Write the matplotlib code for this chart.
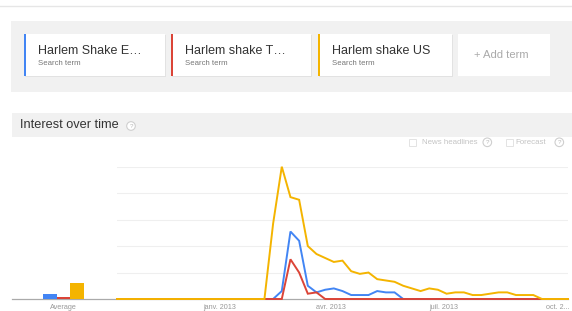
import matplotlib
matplotlib.use('Agg')
import matplotlib.pyplot as plt
from matplotlib.patches import Rectangle, Circle
import pandas as pd

plt.rcParams['font.family'] = ['Liberation Sans', 'DejaVu Sans']

# ---------------- data ----------------
terms = ["Harlem Shake E…", "Harlem shake T…", "Harlem shake US"]
colors = ["#4285f4", "#db4437", "#f4b400"]
averages = [3.5, 1.7, 12.3]

weeks = pd.date_range("2012-10-07", periods=53, freq="7D")  # week start (Sunday)

blue = [0]*19 + [6, 51, 44, 10, 5, 7, 8, 6, 3, 3, 3, 6, 5, 5] + [0]*20
red = [0]*20 + [30, 20, 4, 5] + [0]*29
yellow = ([0]*18 + [57, 100, 77, 75, 40, 34, 31, 28, 29, 21, 19, 20, 15, 14, 13, 10,
                    8, 6, 8, 7, 4, 5, 5, 3, 3, 4, 5, 5, 3, 3, 3] + [0]*4)

tick_dates = ["2013-01-01", "2013-04-01", "2013-07-01", "2013-10-01"]
tick_labels = ["janv. 2013", "avr. 2013", "juil. 2013", "oct. 2..."]
grid_vals = [20, 40, 60, 80, 100]

# ---------------- figure ----------------
W, H = 572, 311
fig = plt.figure(figsize=(W/100, H/100), dpi=100)
fig.patch.set_facecolor("white")

bg = fig.add_axes([0, 0, 1, 1])
bg.set_xlim(0, W)
bg.set_ylim(H, 0)
bg.axis("off")


def px_axes(x0, y0, x1, y1):
    return fig.add_axes([x0/W, (H-y1)/H, (x1-x0)/W, (y1-y0)/H])


# top rule
bg.plot([0, W], [5.5, 5.5], color="#e6e6e6", lw=1)

# search-term panel
bg.add_patch(Rectangle((11, 21), W-11, 71, facecolor="#f1f1f1", edgecolor="none"))
cards = [(24, 165), (171, 311), (318, 452)]
for (x0, x1), term, c in zip(cards, terms, colors):
    bg.add_patch(Rectangle((x0+1, 35), x1-x0, 42, facecolor="#e2e2e2", edgecolor="none"))
    bg.add_patch(Rectangle((x0, 34), x1-x0, 42, facecolor="white", edgecolor="none"))
    bg.add_patch(Rectangle((x0, 34), 2, 42, facecolor=c, edgecolor="none", zorder=3))
    bg.text(x0+14, 51.5, term, fontsize=9.0, color="#333333", va="center", ha="left")
    bg.text(x0+14, 63.8, "Search term", fontsize=5.6, color="#777777", va="center", ha="left")
bg.add_patch(Rectangle((458, 34), 92, 42, facecolor="white", edgecolor="none"))
bg.text(501.3, 55.5, "+ Add term", fontsize=8.1, color="#aaaaaa", va="center", ha="center")

# interest-over-time header
bg.add_patch(Rectangle((12, 112.7), W-12, 24, facecolor="#f1f1f1", edgecolor="none"))
bg.text(19.5, 125.2, "Interest over time", fontsize=9.2, color="#333333", va="center", ha="left")


def qmark(x, y):
    bg.add_patch(Circle((x, y), 4.3, facecolor="white", edgecolor="#cfcfcf", lw=0.8))
    bg.text(x, y+0.3, "?", fontsize=4.5, color="#b5b5b5", va="center", ha="center")


qmark(131, 126)

# news headlines / forecast
bg.add_patch(Rectangle((409, 139), 7, 7, facecolor="white", edgecolor="#e3e3e3", lw=0.7))
bg.text(422.5, 142.3, "News headlines", fontsize=5.7, color="#c4c4c4", va="center", ha="left")
qmark(487.3, 142.3)
bg.add_patch(Rectangle((506, 139), 7, 7, facecolor="white", edgecolor="#e3e3e3", lw=0.7))
bg.text(515.3, 142.3, "Forecast", fontsize=5.7, color="#c4c4c4", va="center", ha="left")
qmark(559.3, 142.3)

# baseline
bg.plot([12, 568], [299, 299], color="#aaaaaa", lw=0.9, zorder=1)

# ---------------- averages ----------------
axa = px_axes(12, 166.7, 117, 299)
axa.patch.set_alpha(0)
axa.bar(range(3), averages, width=1.0, color=colors, zorder=3)
axa.set_xlim(-2.81, 4.97)
axa.set_ylim(0, 100)
axa.set_xticks([1])
axa.set_xticklabels(["Average"], fontsize=5.2, color="#999999")
axa.set_yticks([])
axa.tick_params(axis="x", length=0, pad=3.5)
for s in axa.spines.values():
    s.set_visible(False)

# ---------------- chart ----------------
ax = px_axes(117, 166.7, 568, 299)
ax.patch.set_alpha(0)
xs = weeks + pd.Timedelta(days=3.5)
ax.set_xlim(xs[0], xs[-1])
ax.set_ylim(0, 100)
ax.set_yticks(grid_vals)
ax.yaxis.grid(True, color="#efefef", lw=0.8)
ax.tick_params(axis="y", length=0, labelleft=False)
for s in ax.spines.values():
    s.set_visible(False)
ax.set_axisbelow(True)

for vals, c in zip([blue, red, yellow], colors):
    ax.plot(xs, vals, color=c, lw=1.4, clip_on=False, zorder=3, solid_joinstyle="miter")

ax.set_xticks(pd.to_datetime(tick_dates))
ax.set_xticklabels(tick_labels, fontsize=5.2, color="#999999")
ax.tick_params(axis="x", length=0, pad=3.5)

fig.savefig("out.png", dpi=100, facecolor="white")
